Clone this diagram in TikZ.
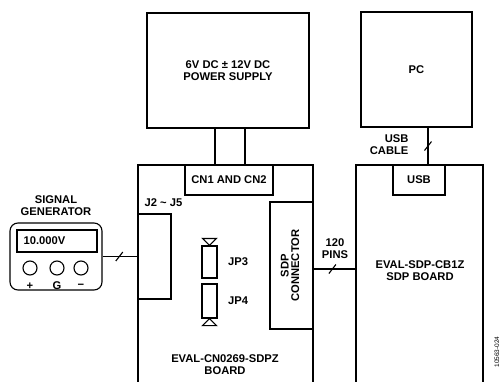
\documentclass[tikz,border=0pt]{standalone}
\usepackage{fontspec}
\setmainfont{Liberation Sans}
\usetikzlibrary{shapes.geometric, arrows, positioning}

\begin{document}
\begin{tikzpicture}[x=1pt, y=-1pt, line width=1.1pt,
    every node/.style={font=\bfseries\fontsize{11.2}{12}\selectfont, align=center}]
    % Styles
    \tikzstyle{block} = [rectangle, draw=black, inner sep=0pt]
    \tikzstyle{label} = [inner sep=0pt]
    \tikzstyle{knob} = [circle, draw=black, minimum size=14pt, inner sep=0pt]
    \useasboundingbox (0,0) rectangle (504,381);

    % Blocks
    \node (ps) [block, minimum width=162pt, minimum height=115pt] at (228,70.5) {6V DC ± 12V DC\\POWER SUPPLY};
    \node (pc) [block, minimum width=111pt, minimum height=115pt] at (416.5,69.5) {PC};
    \node (board) [block, minimum width=175pt, minimum height=230pt] at (225.5,280) {};
    \node (sdpboard) [block, minimum width=127pt, minimum height=230pt] at (419.5,280) {};
    \node (cn) [block, fill=white, minimum width=88pt, minimum height=30pt] at (229,180) {CN1 AND CN2};
    \node (usb) [block, fill=white, minimum width=52pt, minimum height=30pt] at (419,180) {USB};
    \node (jbox) [block, minimum width=33pt, minimum height=85pt] at (154.5,256.5) {};
    \node (sdpconn) [block, minimum width=43pt, minimum height=127pt] at (291.5,265.5) {\rotatebox{90}{\begin{tabular}{@{}c@{}}SDP\\[-1.5pt]CONNECTOR\end{tabular}}};
    \node (jpthree) [block, minimum width=15pt, minimum height=32pt] at (209.5,262) {};
    \node (jpfour) [block, minimum width=15pt, minimum height=34pt] at (209.5,301) {};

    % Labels
    \node (jlabel) [label] at (163.5,203) {J2 \textasciitilde{} J5};
    \node (jpthreelabel) [label, right=10pt of jpthree] {JP3};
    \node (jpfourlabel) [label, right=10pt of jpfour] {JP4};
    \node (boardlabel) [label] at (225,365) {EVAL-CN0269-SDPZ\\BOARD};
    \node (sdplabel) [label] at (420,271) {EVAL-SDP-CB1Z\\SDP BOARD};
    \node (pinslabel) [label] at (335,248.5) {120\\PINS};
    \node (cablelabel) [label, align=right, anchor=east] at (409,145) {USB\\CABLE};

    % Signal generator
    \node (gen) [block, rounded corners=8pt, minimum width=92pt, minimum height=67pt] at (56,256.5) {};
    \node (genlabel) [label] at (56,206) {SIGNAL\\GENERATOR};
    \node (display) [block, minimum width=80pt, minimum height=22pt] at (57,241) {};
    \node (readout) [label, anchor=west] at (23,241) {10.000V};
    \node (kplus) [knob] at (30,268) {};
    \node (kground) [knob] at (57,268) {};
    \node (kminus) [knob] at (81,268) {};
    \node (lplus) [label] at (30,286) {+};
    \node (lground) [label] at (57,286) {G};
    \node (lminus) [label] at (81,286) {−};

    % Jumper marks
    \draw (jpthree.north) -- ++(-7,-7) -- ++(14,0) -- cycle;
    \draw (jpfour.south) -- ++(-7,7) -- ++(14,0) -- cycle;

    % Wires
    \draw ([xshift=-13pt]ps.south) -- ([xshift=-13pt]ps.south |- cn.north);
    \draw ([xshift=17pt]ps.south) -- ([xshift=17pt]ps.south |- cn.north);
    \draw ([xshift=11.5pt]pc.south) -- coordinate[pos=0.5] (t1) ([xshift=11.5pt]pc.south |- usb.north);
    \draw (gen.east) -- coordinate[pos=0.48] (t2) (jbox.west);
    \draw ([yshift=-3.5pt]sdpconn.east) -- coordinate[pos=0.45] (t3) ([yshift=-3.5pt]sdpconn.east -| sdpboard.west);
    \foreach \t in {t1,t2,t3}
        \draw ([shift={(-3.5,4.5)}]\t) -- ([shift={(3.5,-4.5)}]\t);

    % Figure number
    \node (fignum) [label, font=\fontsize{6.5}{7}\selectfont, rotate=90] at (497,352) {10563-024};
\end{tikzpicture}
\end{document}
